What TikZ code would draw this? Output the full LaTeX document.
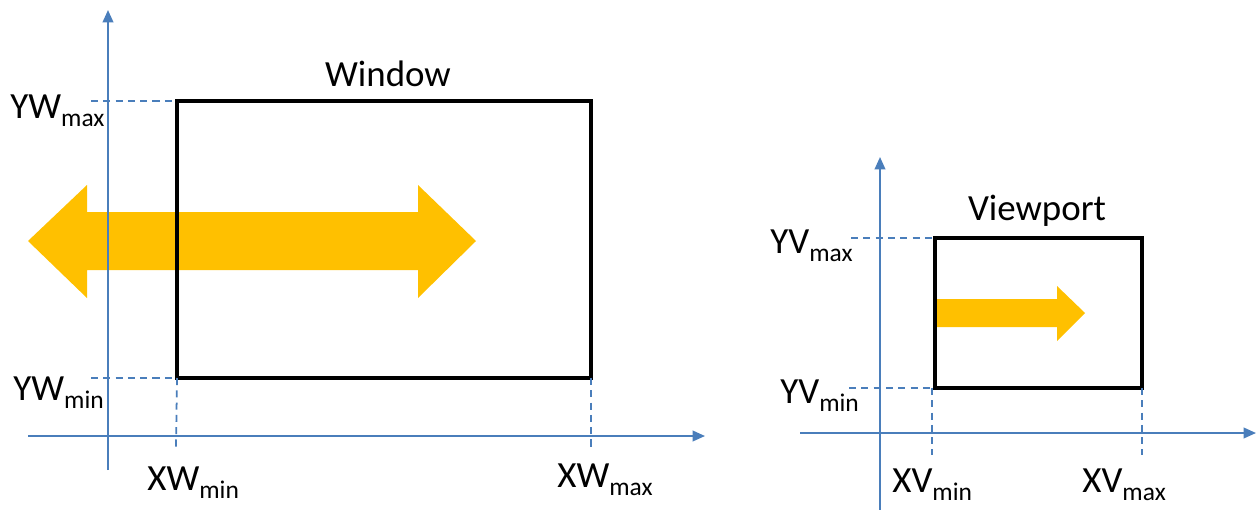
\documentclass[tikz,border=0pt]{standalone}
\usepackage{fontspec}
\setmainfont{Carlito}
\usetikzlibrary{arrows.meta}

\definecolor{axisblue}{HTML}{4A7EBB}
\definecolor{amber}{HTML}{FFC000}

% label with a lowered subscript
\newcommand{\coordlbl}[2]{#1\raisebox{-5pt}{\fontsize{14.5}{15}\selectfont #2}}

\begin{document}
\begin{tikzpicture}[
    x=0.02cm, y=-0.02cm,
    axis/.style={axisblue, line width=1.1pt, -{Triangle[length=7pt, width=6pt]}},
    guide/.style={axisblue, line width=1pt, dash pattern=on 4pt off 3pt},
    frame/.style={draw=black, line width=2.1pt},
    panarrow/.style={fill=amber, draw=none},
    label/.style={font=\fontsize{21}{25}\selectfont, inner sep=0pt}
]
\useasboundingbox (0,0) rectangle (1260,510);

% === WINDOW (LEFT) ===
% pan arrow, under the lines
\fill[panarrow] (28,241) -- (87,185) -- (87,212) -- (418,212) -- (418,185)
    -- (476,241) -- (418,298) -- (418,270) -- (87,270) -- (87,298) -- cycle;

% axes
\coordinate (wxs) at (28,436);
\coordinate (wxe) at (705,436);
\coordinate (wys) at (108,470);
\coordinate (wye) at (108,10);
\draw[axis] (wxs) -- (wxe);
\draw[axis] (wys) -- (wye);

% window box
\coordinate (wll) at (177,378);
\coordinate (wur) at (591,101);
\draw[frame] (wll) rectangle (wur);

% guides
\coordinate (wgtop) at (91,101);
\coordinate (wgbot) at (91,378);
\coordinate (wgmin) at (176,448);
\coordinate (wgmax) at (591,448);
\draw[guide] (wgtop) -- (wll |- wur);
\draw[guide] (wgbot) -- (wll);
\draw[guide] (wll) -- (wgmin);
\draw[guide] (wll -| wur) -- (wgmax);

% labels
\node[label, anchor=base] (wname) at (388,87) {Window};
\node[label, anchor=base west] (ywmax) at (10,118) {\coordlbl{YW}{max}};
\node[label, anchor=base west] (ywmin) at (13,400) {\coordlbl{YW}{min}};
\node[label, anchor=base west] (xwmin) at (147,490) {\coordlbl{XW}{min}};
\node[label, anchor=base west] (xwmax) at (557,487) {\coordlbl{XW}{max}};

% === VIEWPORT (RIGHT) ===
\fill[panarrow] (937,299) -- (1057,299) -- (1057,286) -- (1085,313)
    -- (1057,341) -- (1057,327) -- (937,327) -- cycle;

% axes
\coordinate (vxs) at (800,433);
\coordinate (vxe) at (1256,433);
\coordinate (vys) at (880,512);
\coordinate (vye) at (880,157);
\draw[axis] (vxs) -- (vxe);
\draw[axis] (vys) -- (vye);

% viewport box
\coordinate (vll) at (935,388);
\coordinate (vur) at (1142,238);
\draw[frame] (vll) rectangle (vur);

% guides
\coordinate (vgtop) at (851,238);
\coordinate (vgbot) at (849,388);
\coordinate (vgmin) at (932,455);
\coordinate (vgmax) at (1142,455);
\draw[guide] (vgtop) -- (vll |- vur);
\draw[guide] (vgbot) -- (vll);
\draw[guide] (932,388) -- (vgmin);
\draw[guide] (vll -| vur) -- (vgmax);

% labels
\node[label, anchor=base] (vname) at (1037,220) {Viewport};
\node[label, anchor=base west] (yvmax) at (770,253) {\coordlbl{YV}{max}};
\node[label, anchor=base west] (yvmin) at (780,403) {\coordlbl{YV}{min}};
\node[label, anchor=base west] (xvmin) at (892,492) {\coordlbl{XV}{min}};
\node[label, anchor=base west] (xvmax) at (1082,492) {\coordlbl{XV}{max}};

\end{tikzpicture}
\end{document}
